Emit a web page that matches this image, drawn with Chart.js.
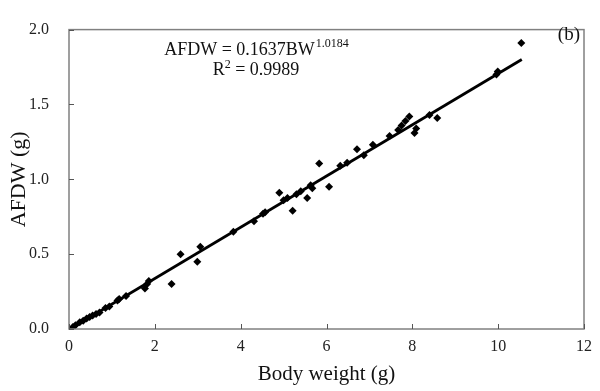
<!DOCTYPE html>
<html>
<head>
<meta charset="utf-8">
<script src="https://cdn.jsdelivr.net/npm/chart.js@4/dist/chart.umd.min.js"></script>
<style>
  html, body { margin: 0; padding: 0; background: #fff; }
  #wrap { width: 600px; height: 391px; }
</style>
</head>
<body>
<div id="wrap"><canvas id="chart"></canvas></div>
<script>
const bodyWeight = [0.06, 0.09, 0.15, 0.25, 0.33, 0.41, 0.48, 0.55, 0.63, 0.71,
    0.85, 0.94, 1.13, 1.17, 1.33, 1.77, 1.82, 1.86, 2.39, 2.60,
    2.99, 3.06, 3.83, 4.31, 4.52, 4.57, 4.90, 5.00, 5.09, 5.21,
    5.30, 5.40, 5.55, 5.63, 5.67, 5.83, 6.06, 6.32, 6.48, 6.71,
    6.87, 7.08, 7.47, 7.67, 7.75, 7.84, 7.93, 8.05, 8.09, 8.40,
    8.58, 9.96, 9.99, 10.54];
const afdw = [0.00, 0.013, 0.025, 0.045, 0.055, 0.07, 0.08, 0.09, 0.10, 0.11,
    0.14, 0.15, 0.19, 0.20, 0.22, 0.27, 0.30, 0.32, 0.30, 0.50,
    0.45, 0.55, 0.65, 0.72, 0.77, 0.78, 0.91, 0.86, 0.875, 0.79,
    0.90, 0.92, 0.875, 0.96, 0.94, 1.105, 0.95, 1.09, 1.11, 1.20,
    1.16, 1.23, 1.29, 1.33, 1.36, 1.39, 1.42, 1.31, 1.34, 1.43,
    1.41, 1.70, 1.72, 1.91];

// fitted line end points
const fitX = [0.03, 10.55];
const fitY = [0.0, 1.80];

const xTicks = [0, 2, 4, 6, 8, 10, 12];
const yTicks = [0.0, 0.5, 1.0, 1.5, 2.0];

const serif = '"Liberation Serif", "DejaVu Serif", serif';

// box around the plot, inward ticks and the equation text
const decor = {
    id: 'decor',
    afterDraw(chart) {
        const ctx = chart.ctx;
        const a = chart.chartArea;
        const xs = chart.scales.x, ys = chart.scales.y;
        ctx.save();
        ctx.strokeStyle = '#808080';
        ctx.lineWidth = 1.5;
        ctx.strokeRect(a.left, a.top, a.right - a.left, a.bottom - a.top);

        ctx.strokeStyle = '#555';
        ctx.lineWidth = 1;
        ctx.beginPath();
        xTicks.forEach(v => {
            const px = Math.round(xs.getPixelForValue(v)) + 0.5;
            ctx.moveTo(px, a.bottom);
            ctx.lineTo(px, a.bottom - 5);
        });
        yTicks.forEach(v => {
            const py = Math.round(ys.getPixelForValue(v)) + 0.5;
            ctx.moveTo(a.left, py);
            ctx.lineTo(a.left + 5, py);
        });
        ctx.stroke();

        ctx.fillStyle = '#111';
        ctx.textBaseline = 'alphabetic';
        // AFDW = 0.1637BW^1.0184
        ctx.font = '18px ' + serif;
        const main = 'AFDW = 0.1637BW';
        const wMain = ctx.measureText(main).width;
        ctx.font = '12px ' + serif;
        const sup = '1.0184';
        const wSup = ctx.measureText(sup).width;
        const cx = 256;
        let x0 = cx - (wMain + wSup) / 2;
        ctx.font = '18px ' + serif;
        ctx.textAlign = 'left';
        ctx.fillText(main, x0, 55);
        ctx.font = '12px ' + serif;
        ctx.fillText(sup, x0 + wMain + 1, 47);

        // R^2 = 0.9989
        ctx.font = '18px ' + serif;
        const r = 'R', rest = ' = 0.9989';
        const wR = ctx.measureText(r).width;
        const wRest = ctx.measureText(rest).width;
        ctx.font = '12px ' + serif;
        const w2 = ctx.measureText('2').width;
        x0 = cx - (wR + w2 + wRest) / 2;
        ctx.font = '18px ' + serif;
        ctx.fillText(r, x0, 75);
        ctx.font = '12px ' + serif;
        ctx.fillText('2', x0 + wR, 68);
        ctx.font = '18px ' + serif;
        ctx.fillText(rest, x0 + wR + w2, 75);

        ctx.font = '19px ' + serif;
        ctx.textAlign = 'right';
        ctx.fillText('(b)', a.right - 4, 40);
        ctx.restore();
    }
};

const points = bodyWeight.map((x, i) => ({ x: x, y: afdw[i] }));
const fit = fitX.map((x, i) => ({ x: x, y: fitY[i] }));

new Chart(document.getElementById('chart'), {
    type: 'scatter',
    data: {
        datasets: [{
            label: 'AFDW',
            data: points,
            pointStyle: 'rectRot',
            pointRadius: 4,
            backgroundColor: '#000',
            borderColor: '#000',
            borderWidth: 0,
            order: 1
        }, {
            label: 'fit',
            type: 'line',
            data: fit,
            borderColor: '#000',
            borderWidth: 2.8,
            pointRadius: 0,
            fill: false,
            order: 2
        }]
    },
    options: {
        responsive: true,
        maintainAspectRatio: false,
        animation: false,
        layout: { padding: { top: 15, right: 11, left: 2, bottom: 0 } },
        plugins: {
            legend: { display: false },
            tooltip: { enabled: false }
        },
        scales: {
            x: {
                type: 'linear',
                min: 0,
                max: 12,
                afterBuildTicks: s => { s.ticks = xTicks.map(v => ({ value: v })); },
                afterFit: s => { s.height = 62; },
                grid: { display: false, drawTicks: false },
                border: { display: false },
                ticks: {
                    padding: 8,
                    color: '#222',
                    font: { family: serif, size: 16 },
                    callback: v => String(v)
                },
                title: {
                    display: true,
                    text: 'Body weight (g)',
                    color: '#111',
                    font: { family: serif, size: 21 },
                    padding: { top: 4 }
                }
            },
            y: {
                type: 'linear',
                min: 0,
                max: 2,
                afterBuildTicks: s => { s.ticks = yTicks.map(v => ({ value: v })); },
                afterFit: s => { s.width = 67; },
                grid: { display: false, drawTicks: false },
                border: { display: false },
                ticks: {
                    padding: 20,
                    color: '#222',
                    font: { family: serif, size: 16 },
                    callback: v => v.toFixed(1)
                },
                title: {
                    display: true,
                    text: 'AFDW (g)',
                    color: '#111',
                    font: { family: serif, size: 22 },
                    padding: { bottom: 0 }
                }
            }
        }
    },
    plugins: [decor]
});
</script>
</body>
</html>
